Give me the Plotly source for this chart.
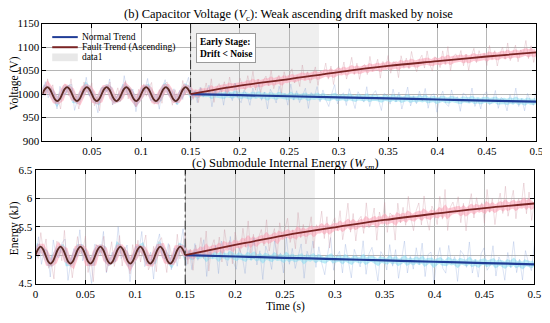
import numpy as np
import plotly.graph_objects as go

# ---------------- data ----------------
# pre-fault oscillation knots (every 1/8 period of a 50 Hz ripple)
t_pre = [round(0.0025 * i, 4) for i in range(61)]
v_pre = [1000, 1010.6, 1015, 1010.6, 1000, 989.4, 985, 989.4] * 7 + [1000, 1010.6, 1015, 1010.6, 1000]
e_pre = [5.0, 5.106, 5.15, 5.106, 5.0, 4.894, 4.85, 4.894] * 7 + [5.0, 5.106, 5.15, 5.106, 5.0]

# post-fault trend knots
t_post = [0.15, 0.2, 0.25, 0.3, 0.35, 0.4, 0.45, 0.5]
v_fault = [1000, 1018, 1032, 1047, 1060, 1070, 1080, 1089]
v_normal = [1000, 997.7, 995.4, 993.1, 990.8, 988.5, 986.2, 983.9]
e_fault = [5.0, 5.18, 5.35, 5.49, 5.62, 5.73, 5.83, 5.91]
e_normal = [5.0, 4.977, 4.954, 4.931, 4.908, 4.885, 4.862, 4.839]

# measurement noise offsets (V), estimated spikes
noise_fault = [5, -12, 18, -3, 22, -8, 1, -25, 14, 7, -16, 28, -5, 10, -20, 3, 17, -9, -2, 24,
               -14, 8, -27, 12, 2, -7, 19, -18, 6, 26, -11, -4, 15, -22, 9, 1, -13, 21, -6, 11,
               -19, 4, 27, -10, -1, 16, -24, 8, 13, -3, -17, 23, 5, -8, 20, -15, 2, 29, -12, 6,
               -21, 10, -4, 18, -9, 25, -26, 3, 12, -7, 14, -18, 22, -2, 7, -23, 16, 0, -11, 19,
               -5, 27, -14, 9, -20, 4, 13, -8, 24, -16, 1, 11, -28, 17, -3, 8, 21, -10, 5, -19,
               26, -6, 10, -15, 3, 18, -22, 7, -1, 23, -12, 15, -25, 6, 12, -4, 20, -17, 2, 28,
               -9, 14, -21, 5, 9, -13, 25, -7, 0, 17, -24, 11, -3, 22, -16, 8, 4, -27, 19, -6,
               13, -10, 26, -2, -18, 7, 16, -12, 24, -5, -20, 10, 3, -14, 21, -8, 29, -23, 6, 12,
               -1, 18, -15, 9, -26, 4, 20, -11, 14, -3, 7, -19, 23, -6, 11, -22, 2, 17, -9, 25,
               -13, 5, 19, -17, 8, -2, 27, -12, 15, -21, 1]
noise_normal = [-8, 15, -21, 4, 11, -17, 26, -3, -12, 7, 19, -24, 2, 13, -6, 22, -15, 9, -1, -27,
                16, 5, -10, 24, -19, 3, 12, -8, 28, -14, -2, 18, -23, 6, 10, -5, 21, -16, 1, 14,
                -25, 8, 17, -11, -4, 23, -9, 12, -20, 2, 27, -13, 7, -18, 15, -6, 4, 20, -26, 9,
                -3, 13, -22, 19, 5, -12, 25, -7, -16, 11, 1, -21, 16, -4, 24, -10, 8, -28, 14, 3,
                -15, 21, -2, 6, -19, 26, -8, 12, -13, 4, 18, -25, 9, -1, 22, -11, 15, -6, -20, 7,
                27, -14, 3, 10, -17, 19, -5, -23, 13, 2, -9, 24, -18, 8, 16, -3, -26, 11, 5, -12,
                20, -7, 14, -22, 1, 25, -15, 6, -10, 17, -4, 23, -19, 9, 12, -27, 3, 18, -8, -14,
                21, -2, 7, -24, 15, 10, -6, 26, -13, 4, -18, 12, 19, -9, -3, 22, -16, 8, 1, -21,
                14, -5, 28, -11, 6, -20, 17, 2, -8, 24]
energy_noise_scale = 0.014  # kJ per noise unit

xticks_b = [0.05, 0.1, 0.15, 0.2, 0.25, 0.3, 0.35, 0.4, 0.45, 0.5]
xticks_c = [0, 0.05, 0.1, 0.15, 0.2, 0.25, 0.3, 0.35, 0.4, 0.45, 0.5]
yticks_b = [900, 950, 1000, 1050, 1100, 1150]
yticks_c = [4.5, 5, 5.5, 6, 6.5]
shade = [0.15, 0.28]

# ---------------- styling ----------------
FONT = "Liberation Serif"
C_NORMAL = "#203c96"
C_FAULT = "#7a2424"
C_NOISE_F = "rgba(200,140,155,0.5)"
C_NOISE_N = "rgba(125,155,215,0.45)"
C_BAND_F = "rgba(255,165,185,0.6)"
C_BAND_N = "rgba(150,228,242,0.65)"

W, H = 550, 323
OFF = 8  # page body margin
def px(x): return (x - OFF) / W
def py(y): return 1 - (y - OFF) / H

fig = go.Figure()

def add_panel(xa, ya, pre_vals, fault, normal, nscale):
    t_all = t_pre + t_post[1:]
    f_all = pre_vals + fault[1:]
    n_all = pre_vals + normal[1:]
    tf = np.linspace(0, 0.5, len(noise_fault))
    tn = np.linspace(0, 0.5, len(noise_normal))
    base_f = np.interp(tf, t_all, f_all)
    base_n = np.interp(tn, t_all, n_all)
    nf = np.array(noise_fault) * nscale
    nn = np.array(noise_normal) * nscale
    common = dict(xaxis=xa, yaxis=ya, showlegend=False, hoverinfo="skip", mode="lines")
    fig.add_trace(go.Scatter(x=tn, y=base_n + 0.1 * nn, line=dict(color=C_BAND_N, width=6), **common))
    fig.add_trace(go.Scatter(x=tf, y=base_f + 0.1 * nf, line=dict(color=C_BAND_F, width=7), **common))
    fig.add_trace(go.Scatter(x=tn, y=base_n + nn, line=dict(color=C_NOISE_N, width=0.6), **common))
    fig.add_trace(go.Scatter(x=tf, y=base_f + nf, line=dict(color=C_NOISE_F, width=0.6), **common))
    fig.add_trace(go.Scatter(x=t_post, y=normal, line=dict(color=C_NORMAL, width=2.2, shape="spline"), **common))
    fig.add_trace(go.Scatter(x=t_post, y=fault, line=dict(color=C_FAULT, width=1.8, shape="spline"), **common))
    fig.add_trace(go.Scatter(x=t_pre, y=pre_vals, line=dict(color="#5a2a24", width=1.8, shape="spline"), **common))

add_panel("x", "y", v_pre, v_fault, v_normal, 1.0)
add_panel("x2", "y2", e_pre, e_fault, e_normal, energy_noise_scale)

axis_common = dict(showgrid=True, gridcolor="#b5b5b5", gridwidth=1, zeroline=False,
                   showline=True, linecolor="black", linewidth=1, mirror="ticks",
                   ticks="inside", ticklen=4, tickcolor="black",
                   tickfont=dict(family=FONT, size=11, color="black"))

fig.update_layout(
    width=W, height=H, margin=dict(l=0, r=0, t=0, b=0),
    paper_bgcolor="white", plot_bgcolor="white", showlegend=False,
    xaxis=dict(domain=[px(40), px(543)], range=[0, 0.5], anchor="y",
               tickvals=xticks_b, ticktext=[f"{v:g}" for v in xticks_b], **axis_common),
    yaxis=dict(domain=[py(140), py(18)], range=[900, 1150], anchor="x",
               tickvals=yticks_b, ticktext=[f"{v:g}" for v in yticks_b], **axis_common),
    xaxis2=dict(domain=[px(33), px(541)], range=[0, 0.5], anchor="y2",
                tickvals=xticks_c, ticktext=[f"{v:g}" for v in xticks_c], **axis_common),
    yaxis2=dict(domain=[py(288), py(170)], range=[4.5, 6.5], anchor="x2",
                tickvals=yticks_c, ticktext=[f"{v:g}" for v in yticks_c], **axis_common),
)

for xr, yr in (("x", "y"), ("x2", "y2")):
    fig.add_shape(type="rect", xref=xr, yref=f"{yr} domain", x0=shade[0], x1=shade[1], y0=0, y1=1,
                  fillcolor="#efefef", line=dict(width=0), layer="below")
    fig.add_shape(type="line", xref=xr, yref=f"{yr} domain", x0=shade[0], x1=shade[0], y0=0, y1=1,
                  line=dict(color="#333333", width=1, dash="dashdot"))

fig.add_annotation(x=0.186, y=1099, xref="x", yref="y", xanchor="center", yanchor="middle",
                   text="<b>Early Stage:</b><br><b>Drift &lt; Noise</b>", showarrow=False, align="left",
                   font=dict(family=FONT, size=9.5, color="black"),
                   bgcolor="white", bordercolor="#9a9a9a", borderwidth=1, borderpad=3)

LEG_SIZE = 9.5
legend_rows = [("Normal Trend", C_NORMAL, 32), ("Fault Trend (Ascending)", C_FAULT, 42.5)]
for name, col, y in legend_rows:
    fig.add_shape(type="line", xref="paper", yref="paper", x0=px(50), x1=px(76), y0=py(y), y1=py(y),
                  line=dict(color=col, width=2))
    fig.add_annotation(x=px(78), y=py(y), xref="paper", yref="paper", text=name, showarrow=False,
                       xanchor="left", yanchor="middle", font=dict(family=FONT, size=LEG_SIZE, color="black"))
fig.add_shape(type="rect", xref="paper", yref="paper", x0=px(50), x1=px(76), y0=py(57), y1=py(49),
              fillcolor="#e8e8e8", line=dict(width=0))
fig.add_annotation(x=px(78), y=py(53), xref="paper", yref="paper", text="data1", showarrow=False,
                   xanchor="left", yanchor="middle", font=dict(family=FONT, size=LEG_SIZE, color="black"))

def label(x, y, text, size, angle=0):
    fig.add_annotation(x=px(x), y=py(y), xref="paper", yref="paper", showarrow=False,
                       xanchor="center", yanchor="middle", textangle=angle, text=text,
                       font=dict(family=FONT, size=size, color="black"))

label(291, 9, "(b) Capacitor Voltage (<i>V</i><sub>c</sub>): Weak ascending drift masked by noise", 12.5)
label(288, 163.5, "(c) Submodule Internal Energy (<i>W</i><sub><i>sm</i></sub>)", 12.5)
label(288, 312, "Time (s)", 11.5)
label(11, 80, "Voltage (V)", 11.5, -90)
label(11.5, 230, "Energy (kJ)", 11.5, -90)

fig.write_html("out.html")
